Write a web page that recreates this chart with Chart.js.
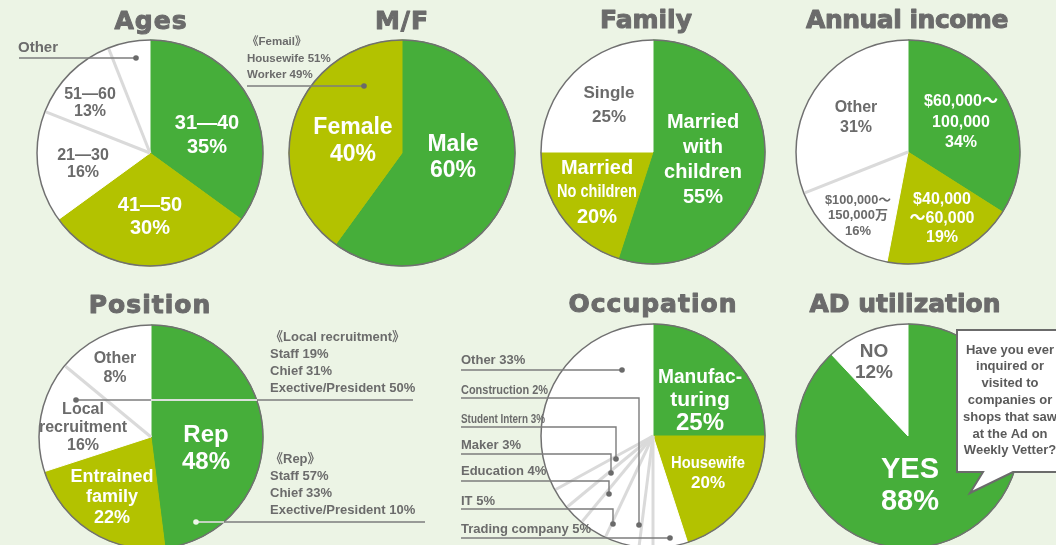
<!DOCTYPE html>
<html><head><meta charset="utf-8">
<script src="https://cdn.jsdelivr.net/npm/chart.js@4/dist/chart.umd.min.js"></script>
<style>
html,body{margin:0;padding:0;background:#ecf4e5;width:1056px;height:545px;overflow:hidden;}
canvas{position:absolute;left:0;top:0;}
</style></head><body>
<canvas id="c0" width="1056" height="600"></canvas>
<canvas id="c1" width="1056" height="600"></canvas>
<canvas id="c2" width="1056" height="600"></canvas>
<canvas id="c3" width="1056" height="600"></canvas>
<canvas id="c4" width="1056" height="600"></canvas>
<canvas id="c5" width="1056" height="600"></canvas>
<canvas id="c6" width="1056" height="600"></canvas>
<script>
// ---------------- DATA ----------------
const titles = ['Ages','M/F','Family','Annual income','Position','Occupation','AD utilization'];

const agesCategories = ['31—40','41—50','21—30','51—60','Other'];
const agesValues = [35,30,16,13,6];

const mfCategories = ['Male','Female'];
const mfValues = [60,40];
const femaleBreakdownCategories = ['Housewife','Worker'];
const femaleBreakdownValues = [51,49];

const familyCategories = ['Married\nwith\nchildren','Married\nNo children','Single'];
const familyValues = [55,20,25];

const incomeCategories = ['$60,000〜\n100,000','$40,000\n〜60,000','$100,000〜\n150,000万','Other'];
const incomeValues = [34,19,16,31];

const positionCategories = ['Rep','Entrained\nfamily','Local\nrecruitment','Other',''];
const positionValues = [48,22,16,8,6];
const localRecruitCategories = ['Staff','Chief','Exective/President'];
const localRecruitValues = [19,31,50];
const repCategories = ['Staff','Chief','Exective/President'];
const repValues = [57,33,10];

const occupationCategories = ['Manufac-\nturing','Housewife','Trading company','Construction','IT','Education','Maker','Student Intern','Other'];
const occupationValues = [25,20,5,2,5,4,3,3,33];

const adCategories = ['YES','NO'];
const adValues = [88,12];
const adQuestion = ['Have you ever','inquired or','visited to','companies or','shops that saw','at the Ad on','Weekly Vetter?'];

// ---------------- STYLE / LAYOUT ----------------
const G = '#46ae3a', O = '#b3c200', W = '#ffffff';
const GRAY = '#6b6b6b', WHITE = '#ffffff';
const FONT = '"Liberation Sans", "Noto Sans CJK JP", sans-serif';
const TFONT = '"DejaVu Sans", sans-serif';

function sliceText(cats, vals, i, noPct) {
  const l = cats[i].split('\n');
  if (!noPct) l.push(vals[i] + '%');
  return l;
}
function breakdown(head, cats, vals) {
  return [head].concat(cats.map((c, k) => c + ' ' + vals[k] + '%'));
}

function drawLines(ctx, lines, x, y, lh, sizes, color, align, maxWs) {
  ctx.fillStyle = color;
  ctx.textAlign = align || 'center';
  ctx.textBaseline = 'middle';
  lines.forEach((s, k) => {
    const size = Array.isArray(sizes) ? sizes[k] : sizes;
    ctx.font = 'bold ' + size + 'px ' + FONT;
    const mw = Array.isArray(maxWs) ? maxWs[k] : maxWs;
    if (mw) ctx.fillText(s, x, y + k * lh, mw); else ctx.fillText(s, x, y + k * lh);
  });
}

function makeAnnot(spec) {
  return {
    id: 'annot' + spec.id,
    afterDraw(chart) {
      const ctx = chart.ctx;
      const arcs = chart.getDatasetMeta(0).data;
      const cx = arcs[0].x, cy = arcs[0].y, r = arcs[0].outerRadius;
      ctx.save();
      // separators between white slices
      ctx.strokeStyle = '#dadada'; ctx.lineWidth = 3; ctx.lineCap = 'butt';
      (spec.seps || []).forEach(i => {
        const a = arcs[i].startAngle;
        ctx.beginPath(); ctx.moveTo(cx, cy);
        ctx.lineTo(cx + (r - 1) * Math.cos(a), cy + (r - 1) * Math.sin(a)); ctx.stroke();
      });
      // outer border
      ctx.strokeStyle = '#707070'; ctx.lineWidth = 1.5;
      ctx.beginPath(); ctx.arc(cx, cy, r, 0, Math.PI * 2); ctx.stroke();
      // leader lines
      (spec.leaders || []).forEach(L => {
        ctx.strokeStyle = L.color || '#7c7c7c'; ctx.lineWidth = 1.4;
        ctx.beginPath();
        L.pts.forEach((p, k) => { if (k === 0) ctx.moveTo(cx + p[0], cy + p[1]); else ctx.lineTo(cx + p[0], cy + p[1]); });
        ctx.stroke();
        if (L.dot) {
          ctx.fillStyle = L.dotColor || '#6a6a6a';
          const p = L.dot;
          ctx.beginPath(); ctx.arc(cx + p[0], cy + p[1], 2.8, 0, Math.PI * 2); ctx.fill();
        }
      });
      // bubble
      if (spec.bubble) {
        const B = spec.bubble;
        ctx.beginPath();
        B.pts.forEach((p, k) => { if (k === 0) ctx.moveTo(cx + p[0], cy + p[1]); else ctx.lineTo(cx + p[0], cy + p[1]); });
        ctx.closePath();
        ctx.fillStyle = '#ffffff'; ctx.fill();
        ctx.strokeStyle = '#6b6b6b'; ctx.lineWidth = 2; ctx.lineJoin = 'miter'; ctx.stroke();
        drawLines(ctx, B.lines, cx + B.x, cy + B.y, B.lh, B.size, '#5a5a5a', 'center');
      }
      // slice labels
      (spec.labels || []).forEach(lb => {
        const lines = lb.lines || sliceText(spec.cats, spec.vals, lb.i, lb.noPct);
        drawLines(ctx, lines, cx + lb.x, cy + lb.y, lb.lh || 0, lb.size, lb.color, lb.align, lb.maxW);
      });
      // title
      ctx.fillStyle = '#6b6b6b'; ctx.strokeStyle = '#6b6b6b'; ctx.lineWidth = 1;
      ctx.lineJoin = 'round';
      ctx.textAlign = 'center'; ctx.textBaseline = 'alphabetic';
      ctx.font = 'bold 25px ' + TFONT;
      if ('letterSpacing' in ctx) ctx.letterSpacing = spec.tls + 'px';
      ctx.fillText(titles[spec.title], cx + spec.tdx, cy - 124);
      ctx.strokeText(titles[spec.title], cx + spec.tdx, cy - 124);
      ctx.restore();
    }
  };
}

const specs = [
  { id:'c0', title:0, cats:agesCategories, vals:agesValues, colors:[G,O,W,W,W], cx:150, cy:153, r:113, tdx:1, tls:1,
    seps:[3,4],
    labels:[
      {i:0, x:57, y:-30, lh:24, size:20, color:WHITE},
      {i:1, x:0, y:52, lh:23, size:20, color:WHITE},
      {i:2, x:-67, y:3, lh:17, size:16, color:GRAY},
      {i:3, x:-60, y:-58, lh:17, size:16, color:GRAY},
      {i:4, x:-132, y:-105, size:15, color:GRAY, align:'left', noPct:true}
    ],
    leaders:[{pts:[[-131,-95],[-14,-95]], dot:[-14,-95]}]
  },
  { id:'c1', title:1, cats:mfCategories, vals:mfValues, colors:[G,O], cx:402, cy:153, r:113, tdx:0, tls:1,
    labels:[
      {i:0, x:51, y:-8, lh:26, size:23, color:WHITE},
      {i:1, x:-49, y:-25, lh:27, size:23, color:WHITE},
      {lines:breakdown('《Femail》', femaleBreakdownCategories, femaleBreakdownValues), x:-155, y:-111, lh:16.5, size:11.5, color:GRAY, align:'left'}
    ],
    leaders:[{pts:[[-155,-67],[-38,-67]], dot:[-38,-67]}]
  },
  { id:'c2', title:2, cats:familyCategories, vals:familyValues, colors:[G,O,W], cx:653, cy:152, r:112, tdx:-7, tls:0,
    labels:[
      {i:0, x:50, y:-30, lh:25, size:20, color:WHITE},
      {i:1, x:-56, y:16, lh:24.5, size:[20,18,20], maxW:[0,80,0], color:WHITE},
      {i:2, x:-44, y:-59, lh:24, size:17, color:GRAY}
    ]
  },
  { id:'c3', title:3, cats:incomeCategories, vals:incomeValues, colors:[G,O,W,W], cx:908, cy:152, r:112, tdx:-1, tls:-0.5,
    seps:[3],
    labels:[
      {i:0, x:53, y:-50, lh:20.5, size:16, color:WHITE},
      {i:1, x:34, y:48, lh:19, size:16, color:WHITE},
      {i:2, x:-50, y:48, lh:15.5, size:13, maxW:[66,66,0], color:GRAY},
      {i:3, x:-52, y:-44, lh:20, size:16, color:GRAY}
    ]
  },
  { id:'c4', title:4, cats:positionCategories, vals:positionValues, colors:[G,O,W,W,W], cx:151, cy:437, r:112, tdx:-1, tls:1,
    seps:[3],
    labels:[
      {i:0, x:55, y:-2, lh:27, size:24, color:WHITE},
      {i:1, x:-39, y:40, lh:20.5, size:18, color:WHITE},
      {i:2, x:-68, y:-27, lh:18, size:16, color:GRAY},
      {i:3, x:-36, y:-78, lh:19, size:16, color:GRAY},
      {lines:breakdown('《Local recruitment》', localRecruitCategories, localRecruitValues), x:119, y:-100, lh:17, size:13, color:GRAY, align:'left'},
      {lines:breakdown('《Rep》', repCategories, repValues), x:119, y:22, lh:17, size:13, color:GRAY, align:'left'}
    ],
    leaders:[
      {pts:[[-75,-37],[262,-37]], dot:[-75,-37]},
      {pts:[[0,-37],[106,-37]], color:'#ffffff'},
      {pts:[[45,85],[274,85]]},
      {pts:[[45,85],[73,85]], color:'#e8f4e4', dot:[45,85], dotColor:'#eef6ea'}
    ]
  },
  { id:'c5', title:5, cats:occupationCategories, vals:occupationValues, colors:[G,O,W,W,W,W,W,W,W], cx:653, cy:436, r:112, tdx:0, tls:1,
    seps:[3,4,5,6,7,8],
    labels:[
      {i:0, x:47, y:-59, lh:23, size:[21,21,24], maxW:[84,84,0], color:WHITE},
      {i:1, x:55, y:27, lh:20, size:17, maxW:[74,0], color:WHITE},
      {lines:[occupationCategories[8]+' '+occupationValues[8]+'%'], x:-192, y:-76, size:13, color:GRAY, align:'left'},
      {lines:[occupationCategories[3]+' '+occupationValues[3]+'%'], x:-192, y:-46, size:13.5, maxW:87, color:GRAY, align:'left'},
      {lines:[occupationCategories[7]+' '+occupationValues[7]+'%'], x:-192, y:-17, size:13, maxW:84, color:GRAY, align:'left'},
      {lines:[occupationCategories[6]+' '+occupationValues[6]+'%'], x:-192, y:9, size:13, color:GRAY, align:'left'},
      {lines:[occupationCategories[5]+' '+occupationValues[5]+'%'], x:-192, y:35, size:13, color:GRAY, align:'left'},
      {lines:[occupationCategories[4]+' '+occupationValues[4]+'%'], x:-192, y:65, size:13, color:GRAY, align:'left'},
      {lines:[occupationCategories[2]+' '+occupationValues[2]+'%'], x:-192, y:93, size:13, color:GRAY, align:'left'}
    ],
    leaders:[
      {pts:[[-192,-66],[-31,-66]], dot:[-31,-66]},
      {pts:[[-192,-38],[-14,-38],[-14,89]], dot:[-14,89]},
      {pts:[[-192,-9],[-37,-9],[-37,23]], dot:[-37,23]},
      {pts:[[-192,18],[-42,18],[-42,37]], dot:[-42,37]},
      {pts:[[-192,45],[-44,45],[-44,58]], dot:[-44,58]},
      {pts:[[-192,73],[-40,73],[-40,88]], dot:[-40,88]},
      {pts:[[-192,102],[17,102]], dot:[17,102]}
    ]
  },
  { id:'c6', title:6, cats:adCategories, vals:adValues, colors:[G,W], cx:908, cy:436, r:112, tdx:-3, tls:0,
    labels:[
      {i:0, x:2, y:34, lh:32, size:29, color:WHITE},
      {i:1, x:-34, y:-84, lh:21, size:19, color:GRAY}
    ],
    bubble:{ pts:[[49,-106],[160,-106],[160,36],[105,36],[62,57],[75,36],[49,36]],
             lines:adQuestion, x:102, y:-86, lh:16.8, size:13 }
  }
];

function makeChart(spec) {
  const s = spec.r + 3, CW = 1056, CH = 600;
  return new Chart(document.getElementById(spec.id), {
    type: 'pie',
    data: {
      labels: spec.cats.map(c => c.replace(/\n/g, ' ')),
      datasets: [{ data: spec.vals, backgroundColor: spec.colors, borderColor: spec.colors, borderWidth: 1, hoverOffset: 0 }]
    },
    options: {
      responsive: false, animation: false, events: [], radius: spec.r,
      layout: { padding: { left: spec.cx - s, top: spec.cy - s, right: CW - spec.cx - s, bottom: CH - spec.cy - s } },
      plugins: { legend: { display: false }, tooltip: { enabled: false } }
    },
    plugins: [makeAnnot(spec)]
  });
}
specs.forEach(makeChart);
</script>
</body></html>
